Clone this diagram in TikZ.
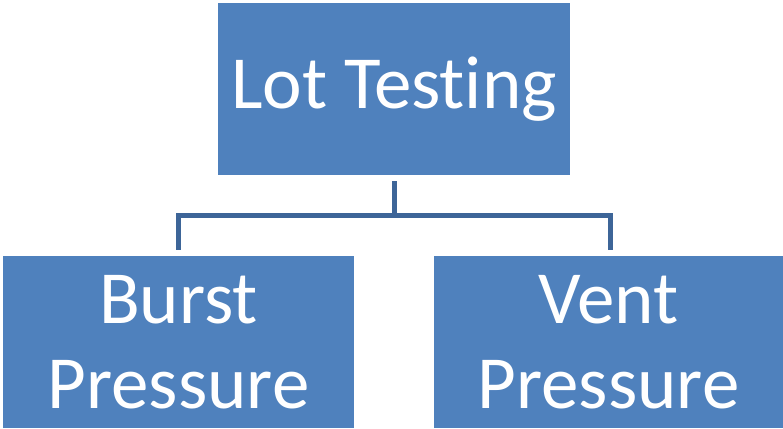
\documentclass[tikz,border=0pt]{standalone}
\usepackage{fontspec}
\setmainfont[Ligatures=NoCommon]{Carlito}
\usetikzlibrary{calc}
\usetikzlibrary{positioning}
\definecolor{boxblue}{HTML}{4F81BD}
\definecolor{linkblue}{HTML}{3D6598}
\tikzset{
  lotbox/.style={fill=boxblue,text=white,inner sep=0pt,align=center,
    font=\fontsize{75}{85}\selectfont},
  link/.style={linkblue,line width=5pt,line join=miter}
}

\begin{document}
\begin{tikzpicture}[x=1pt,y=1pt]
        \useasboundingbox (0,0) rectangle (783,-428);
        \node[lotbox,minimum width=352pt,minimum height=172pt] (top) at (394,-89) {Lot Testing};
        \node[lotbox,minimum width=351pt,minimum height=172pt] (burst) at (178.5,-342) {Burst\\Pressure};
        \node[lotbox,minimum width=349pt,minimum height=172pt] (vent) at (608.5,-342) {Vent\\Pressure};
        \coordinate (mid) at (394,-215);
        \draw[link] ($(top.south)+(0,-6)$) -- (mid);
        \draw[link] ($(burst.north)+(0,6)$) |- (mid) -| ($(vent.north)+(1.5,6)$);
    \end{tikzpicture}
\end{document}
